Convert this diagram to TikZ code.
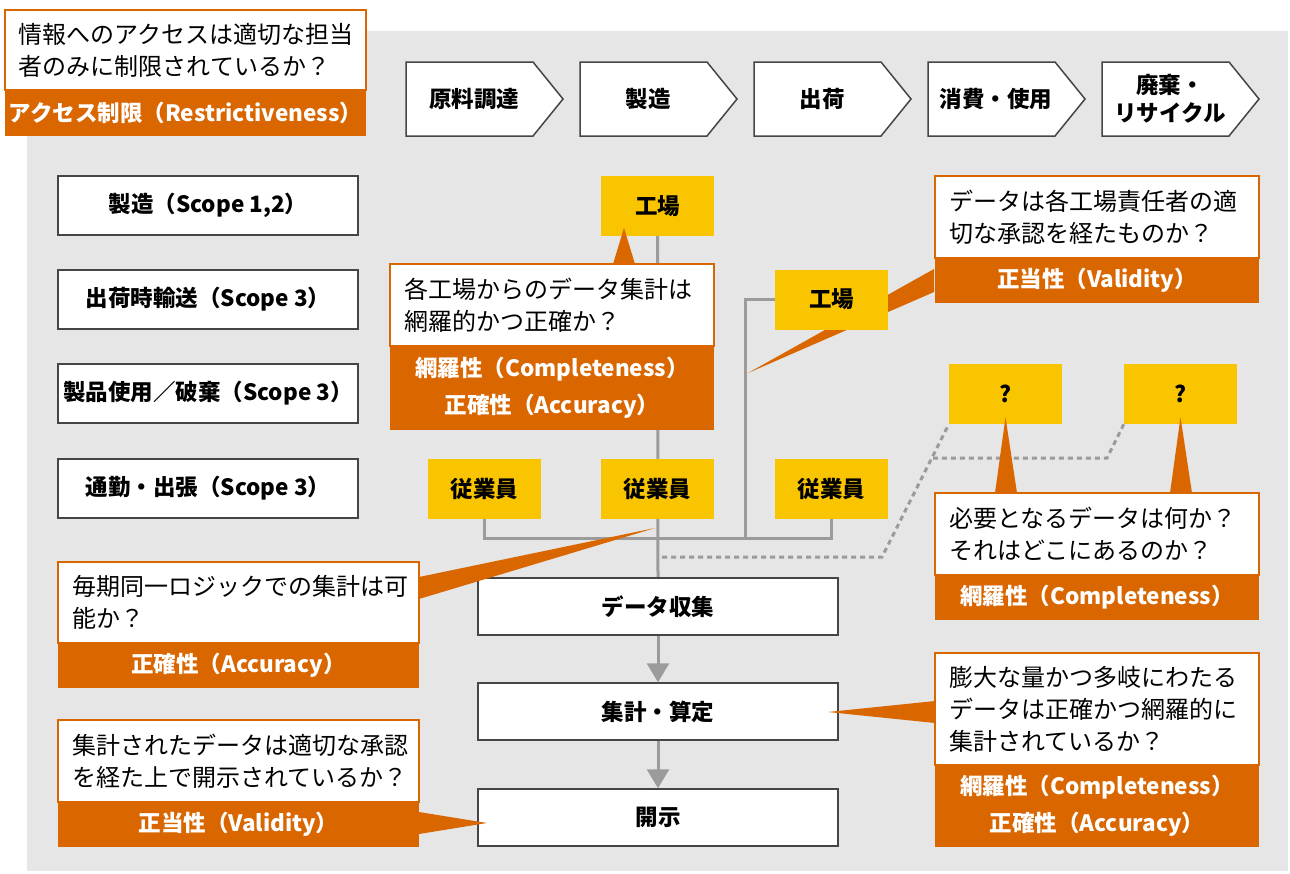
\documentclass[tikz,border=0pt]{standalone}
\usepackage{fontspec}
\setmainfont{Noto Sans CJK JP}
\usetikzlibrary{arrows.meta}
\definecolor{bg}{HTML}{E6E6E6}
\definecolor{org}{HTML}{DA6600}
\definecolor{ylw}{HTML}{F9C400}
\definecolor{ln}{HTML}{9B9B9B}
\definecolor{bd}{HTML}{454545}
\newcommand\myq{\fontsize{24}{32}\selectfont}
\newcommand\myl{\bfseries\fontsize{22.5}{37}\selectfont}
\pgfdeclarelayer{back}
\pgfdeclarelayer{lines}
\pgfsetlayers{back,lines,main}
\tikzset{
 qbox/.style={draw=org, line width=1.5pt, fill=white, anchor=north west, inner xsep=14pt, inner ysep=0pt, align=left, font=\myq, outer sep=0pt},
 lbar/.style={fill=org, anchor=north west, inner sep=0pt, align=center, text=white, font=\myl, outer sep=0pt},
 ybox/.style={fill=ylw, minimum width=113pt, minimum height=60pt, inner sep=0pt, font=\myl},
 sbox/.style={draw=bd, line width=1.5pt, fill=white, minimum width=300pt, minimum height=59pt, inner sep=0pt, font=\myl},
 fbox/.style={draw=bd, line width=1.5pt, fill=white, minimum width=360pt, minimum height=57pt, inner sep=0pt, font=\myl},
 proc/.style={draw=bd, line width=1.5pt, fill=white},
 ptext/.style={font=\myl, align=center, inner sep=0pt},
 gline/.style={draw=ln, line width=3pt},
 dline/.style={draw=ln, line width=3pt, dash pattern=on 5pt off 4pt},
 ptr/.style={fill=org},
 flowarrow/.style={draw=ln, line width=3pt, -{Triangle[width=22pt,length=19pt]}},
}
\begin{document}
\begin{tikzpicture}[x=1pt,y=-1pt]
\useasboundingbox (0,0) rectangle (1290,873);
\begin{pgfonlayer}{back}
\fill[bg] (27,31) rectangle (1288,871);
\end{pgfonlayer}

% process chevrons
\draw[proc] (406,62) -- ++(127,0) -- ++(30,37) -- ++(-30,37) -- ++(-127,0) -- cycle;
\node[ptext] (p1) at (474,99) {原料調達};
\draw[proc] (580,62) -- ++(127,0) -- ++(30,37) -- ++(-30,37) -- ++(-127,0) -- cycle;
\node[ptext] (p2) at (648,99) {製造};
\draw[proc] (754,62) -- ++(127,0) -- ++(30,37) -- ++(-30,37) -- ++(-127,0) -- cycle;
\node[ptext] (p3) at (822,99) {出荷};
\draw[proc] (928,62) -- ++(127,0) -- ++(30,37) -- ++(-30,37) -- ++(-127,0) -- cycle;
\node[ptext] (p4) at (996,99) {消費・使用};
\draw[proc] (1102,62) -- ++(127,0) -- ++(30,37) -- ++(-30,37) -- ++(-127,0) -- cycle;
\node[ptext, font=\bfseries\fontsize{22.5}{28}\selectfont] (p5) at (1170,99) {廃棄・\\リサイクル};

% scope boxes
\node[sbox] (s1) at (208,205.5) {製造（Scope 1,2）};
\node[sbox] (s2) at (208,299.5) {出荷時輸送（Scope 3）};
\node[sbox] (s3) at (208,393.5) {製品使用／破棄（Scope 3）};
\node[sbox] (s4) at (208,488.5) {通勤・出張（Scope 3）};

% flow boxes
\node[fbox] (collect) at (658,606.5) {データ収集};
\node[fbox] (calc) at (658,711.5) {集計・算定};
\node[fbox] (disclose) at (658,817.5) {開示};
\draw[flowarrow] (collect.south) -- (calc.north);
\draw[flowarrow] (calc.south) -- (disclose.north);

% yellow boxes
\node[ybox] (k1) at (657.5,206) {工場};
\node[ybox] (k2) at (831.5,299.5) {工場};
\node[ybox] (e1) at (484.5,488.5) {従業員};
\node[ybox] (e2) at (657.5,488.5) {従業員};
\node[ybox] (e3) at (831.5,488.5) {従業員};
\node[ybox] (q1) at (1005.5,394) {?};
\node[ybox] (q2) at (1180.5,394) {?};

% callouts
\node[qbox, text width=333pt, minimum height=80pt] (aQ) at (5,10) {情報へのアクセスは適切な担当\\者のみに制限されているか？};
\node[lbar, minimum width=361pt, minimum height=46pt] (aL) at (5,90) {アクセス制限（Restrictiveness）};

\node[qbox, text width=296pt, minimum height=82pt] (bQ) at (390,264) {各工場からのデータ集計は\\網羅的かつ正確か？};
\node[lbar, minimum width=324pt, minimum height=84pt] (bL) at (390,346) {網羅性（Completeness）\\正確性（Accuracy）};

\node[qbox, text width=296pt, minimum height=82pt] (cQ) at (935,176) {データは各工場責任者の適\\切な承認を経たものか？};
\node[lbar, minimum width=324pt, minimum height=45pt] (cL) at (935,258) {正当性（Validity）};

\node[qbox, text width=296pt, minimum height=82pt] (dQ) at (935,493) {必要となるデータは何か？\\それはどこにあるのか？};
\node[lbar, minimum width=324pt, minimum height=45pt] (dL) at (935,575) {網羅性（Completeness）};

\node[qbox, text width=333pt, minimum height=81pt] (eQ) at (58,562) {毎期同一ロジックでの集計は可\\能か？};
\node[lbar, minimum width=361pt, minimum height=45pt] (eL) at (58,643) {正確性（Accuracy）};

\node[qbox, text width=296pt, minimum height=112pt] (fQ) at (935,653) {膨大な量かつ多岐にわたる\\データは正確かつ網羅的に\\集計されているか？};
\node[lbar, minimum width=324pt, minimum height=82pt] (fL) at (935,765) {網羅性（Completeness）\\正確性（Accuracy）};

\node[qbox, text width=333pt, minimum height=82pt] (gQ) at (58,720) {集計されたデータは適切な承認\\を経た上で開示されているか？};
\node[lbar, minimum width=361pt, minimum height=45pt] (gL) at (58,802) {正当性（Validity）};

% connector coordinates
\coordinate (j2) at (745,538);
\coordinate (dA) at (662,557);
\coordinate (dB) at (882,557);
\coordinate (dC) at (1107,458);
\coordinate (dD) at (933,458);

\begin{pgfonlayer}{lines}
\draw[gline] (k1.south) -- (collect.north);
\draw[gline] (k2.west) -| (j2);
\draw[gline] (e1.south) -- ++(0,20) -| (e3.south);
\draw[dline] (dA) -- (dB) -- (q1.south west);
\draw[dline] (q2.south west) -- (dC) -- (dD);
% validity pointer behind factory box
\fill[ptr] (934,269) -- (934,292) -- (748,373) -- cycle;
\end{pgfonlayer}

% pointers
\fill[ptr] (613,264) -- (635,264) -- (624,228) -- cycle;
\fill[ptr] (995,493) -- (1017,493) -- ([yshift=7pt]q1.south) -- cycle;
\fill[ptr] (1170,493) -- (1192,493) -- ([yshift=7pt]q2.south) -- cycle;
\fill[ptr] (419,577) -- (419,599) -- (655,528) -- cycle;
\fill[ptr] (935,701) -- (935,723) -- (828,712) -- cycle;
\fill[ptr] (419,812) -- (419,834) -- (487,823) -- cycle;
\end{tikzpicture}
\end{document}
